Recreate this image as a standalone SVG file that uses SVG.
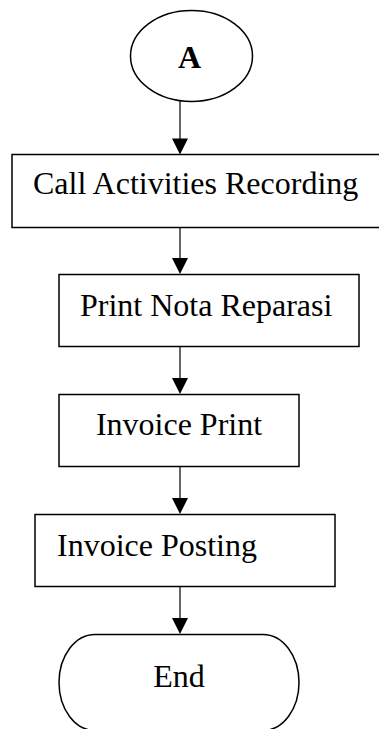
<svg xmlns="http://www.w3.org/2000/svg" width="379" height="729" viewBox="0 0 379 729">
  <style>
    .shape { fill: #ffffff; stroke: #000000; stroke-width: 1.5; }
    .label { font-family: "Liberation Serif", "Times New Roman", serif; font-size: 32px; fill: #000000; }
    .conn { stroke: #000000; stroke-width: 1.2; fill: none; }
    .head { fill: #000000; stroke: none; }
  </style>

  <!-- connectors -->
  <g id="connectors">
    <line class="conn" x1="180" y1="101" x2="180" y2="140"/>
    <polygon class="head" points="172,138.5 188,138.5 180,154.5"/>
    <line class="conn" x1="180" y1="227" x2="180" y2="260"/>
    <polygon class="head" points="172,258 188,258 180,274"/>
    <line class="conn" x1="180" y1="347" x2="180" y2="380"/>
    <polygon class="head" points="172,378 188,378 180,394"/>
    <line class="conn" x1="180" y1="467" x2="180" y2="500"/>
    <polygon class="head" points="172,498 188,498 180,514"/>
    <line class="conn" x1="180" y1="587" x2="180" y2="620"/>
    <polygon class="head" points="172,618 188,618 180,634"/>
  </g>

  <!-- connector A -->
  <g id="node-a">
    <ellipse class="shape" cx="191.5" cy="56" rx="61" ry="45.5"/>
    <text class="label" x="189.5" y="68" font-size="37" font-weight="bold" text-anchor="middle">A</text>
  </g>

  <g id="node-call-activities">
    <rect class="shape" x="12" y="154.5" width="380" height="73"/>
    <text class="label" x="33" y="194">Call Activities Recording</text>
  </g>

  <g id="node-print-nota">
    <rect class="shape" x="59" y="274.5" width="300" height="72"/>
    <text class="label" x="80" y="316">Print Nota Reparasi</text>
  </g>

  <g id="node-invoice-print">
    <rect class="shape" x="59" y="394.5" width="240" height="72"/>
    <text class="label" x="179" y="435" text-anchor="middle">Invoice Print</text>
  </g>

  <g id="node-invoice-posting">
    <rect class="shape" x="35" y="514.5" width="300" height="72"/>
    <text class="label" x="57" y="556">Invoice Posting</text>
  </g>

  <g id="node-end">
    <rect class="shape" x="59" y="634.5" width="240" height="96" rx="36" ry="48"/>
    <text class="label" x="179" y="687" text-anchor="middle">End</text>
  </g>
</svg>
